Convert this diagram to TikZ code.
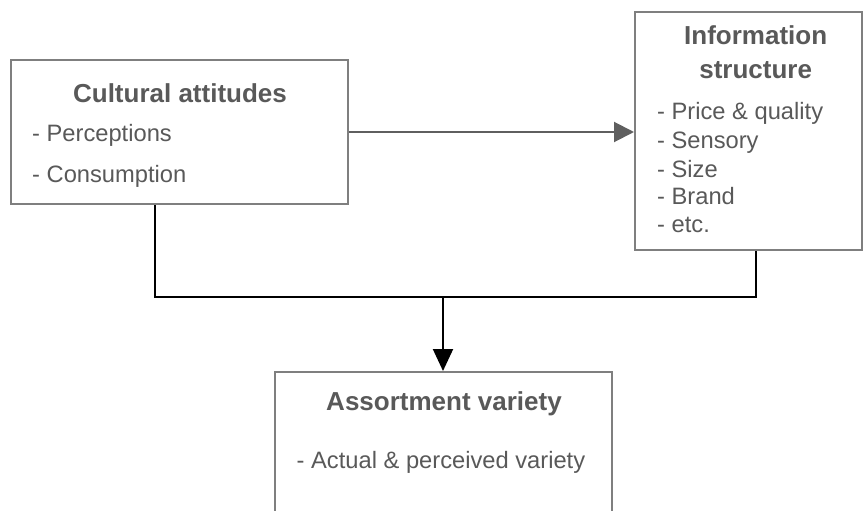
\documentclass[tikz,border=0pt]{standalone}
\usepackage{fontspec}
\setmainfont{Liberation Sans}
\usetikzlibrary{arrows.meta}
\definecolor{txt}{HTML}{595959}
\definecolor{boxc}{HTML}{7F7F7F}
\definecolor{arrc}{HTML}{5F5F5F}
\tikzset{
  box/.style={draw=boxc, line width=2pt, inner sep=0pt},
  ttl/.style={text=txt, font=\fontsize{26}{30}\selectfont\bfseries, inner sep=0pt, anchor=base},
  itm/.style={text=txt, font=\fontsize{23.7}{28}\selectfont, inner sep=0pt, anchor=base west},
  conn/.style={draw=black, line width=2pt},
}
\begin{document}
\begin{tikzpicture}[x=1pt,y=-1pt]
\useasboundingbox (0,0) rectangle (863,511);
\clip (0,0) rectangle (863,511);
\fill[white] (0,0) rectangle (863,511);
% boxes
\node[box, minimum width=337pt, minimum height=144pt] (ca) at (179.5,132) {};
\node[box, minimum width=227pt, minimum height=238pt] (is) at (748.5,131) {};
\node[box, minimum width=337pt, minimum height=180pt] (av) at (443.5,462) {};
% texts
\node[ttl] (ca-t) at (180,102.7) {Cultural attitudes};
\node[itm] (ca-1) at (32,141.7) {- Perceptions};
\node[itm] (ca-2) at (32,182.7) {- Consumption};
\node[ttl] (is-t1) at (755.7,45) {Information};
\node[ttl] (is-t2) at (755.7,78) {structure};
\node[itm] (is-1) at (657,120) {- Price \& quality};
\node[itm] (is-2) at (657,149) {- Sensory};
\node[itm] (is-3) at (657,177) {- Size};
\node[itm] (is-4) at (657,204) {- Brand};
\node[itm] (is-5) at (657,232) {- etc.};
\node[ttl] (av-t) at (444,410) {Assortment variety};
\node[itm] (av-1) at (296.5,468) {- Actual \& perceived variety};
% connectors
\coordinate (j) at (443,297);
\draw[draw=arrc, line width=2pt, -{Triangle[length=20pt,width=20pt,fill=arrc]}] (ca.east |- 0,132) -- (is.west |- 0,132);
\draw[conn] (155,0 |- ca.south) -- (155,297) -- (755.5,297) -- (755.5,0 |- is.south);
\draw[conn, -{Triangle[length=22pt,width=20pt]}] (j) -- (j |- av.north);
\end{tikzpicture}
\end{document}
